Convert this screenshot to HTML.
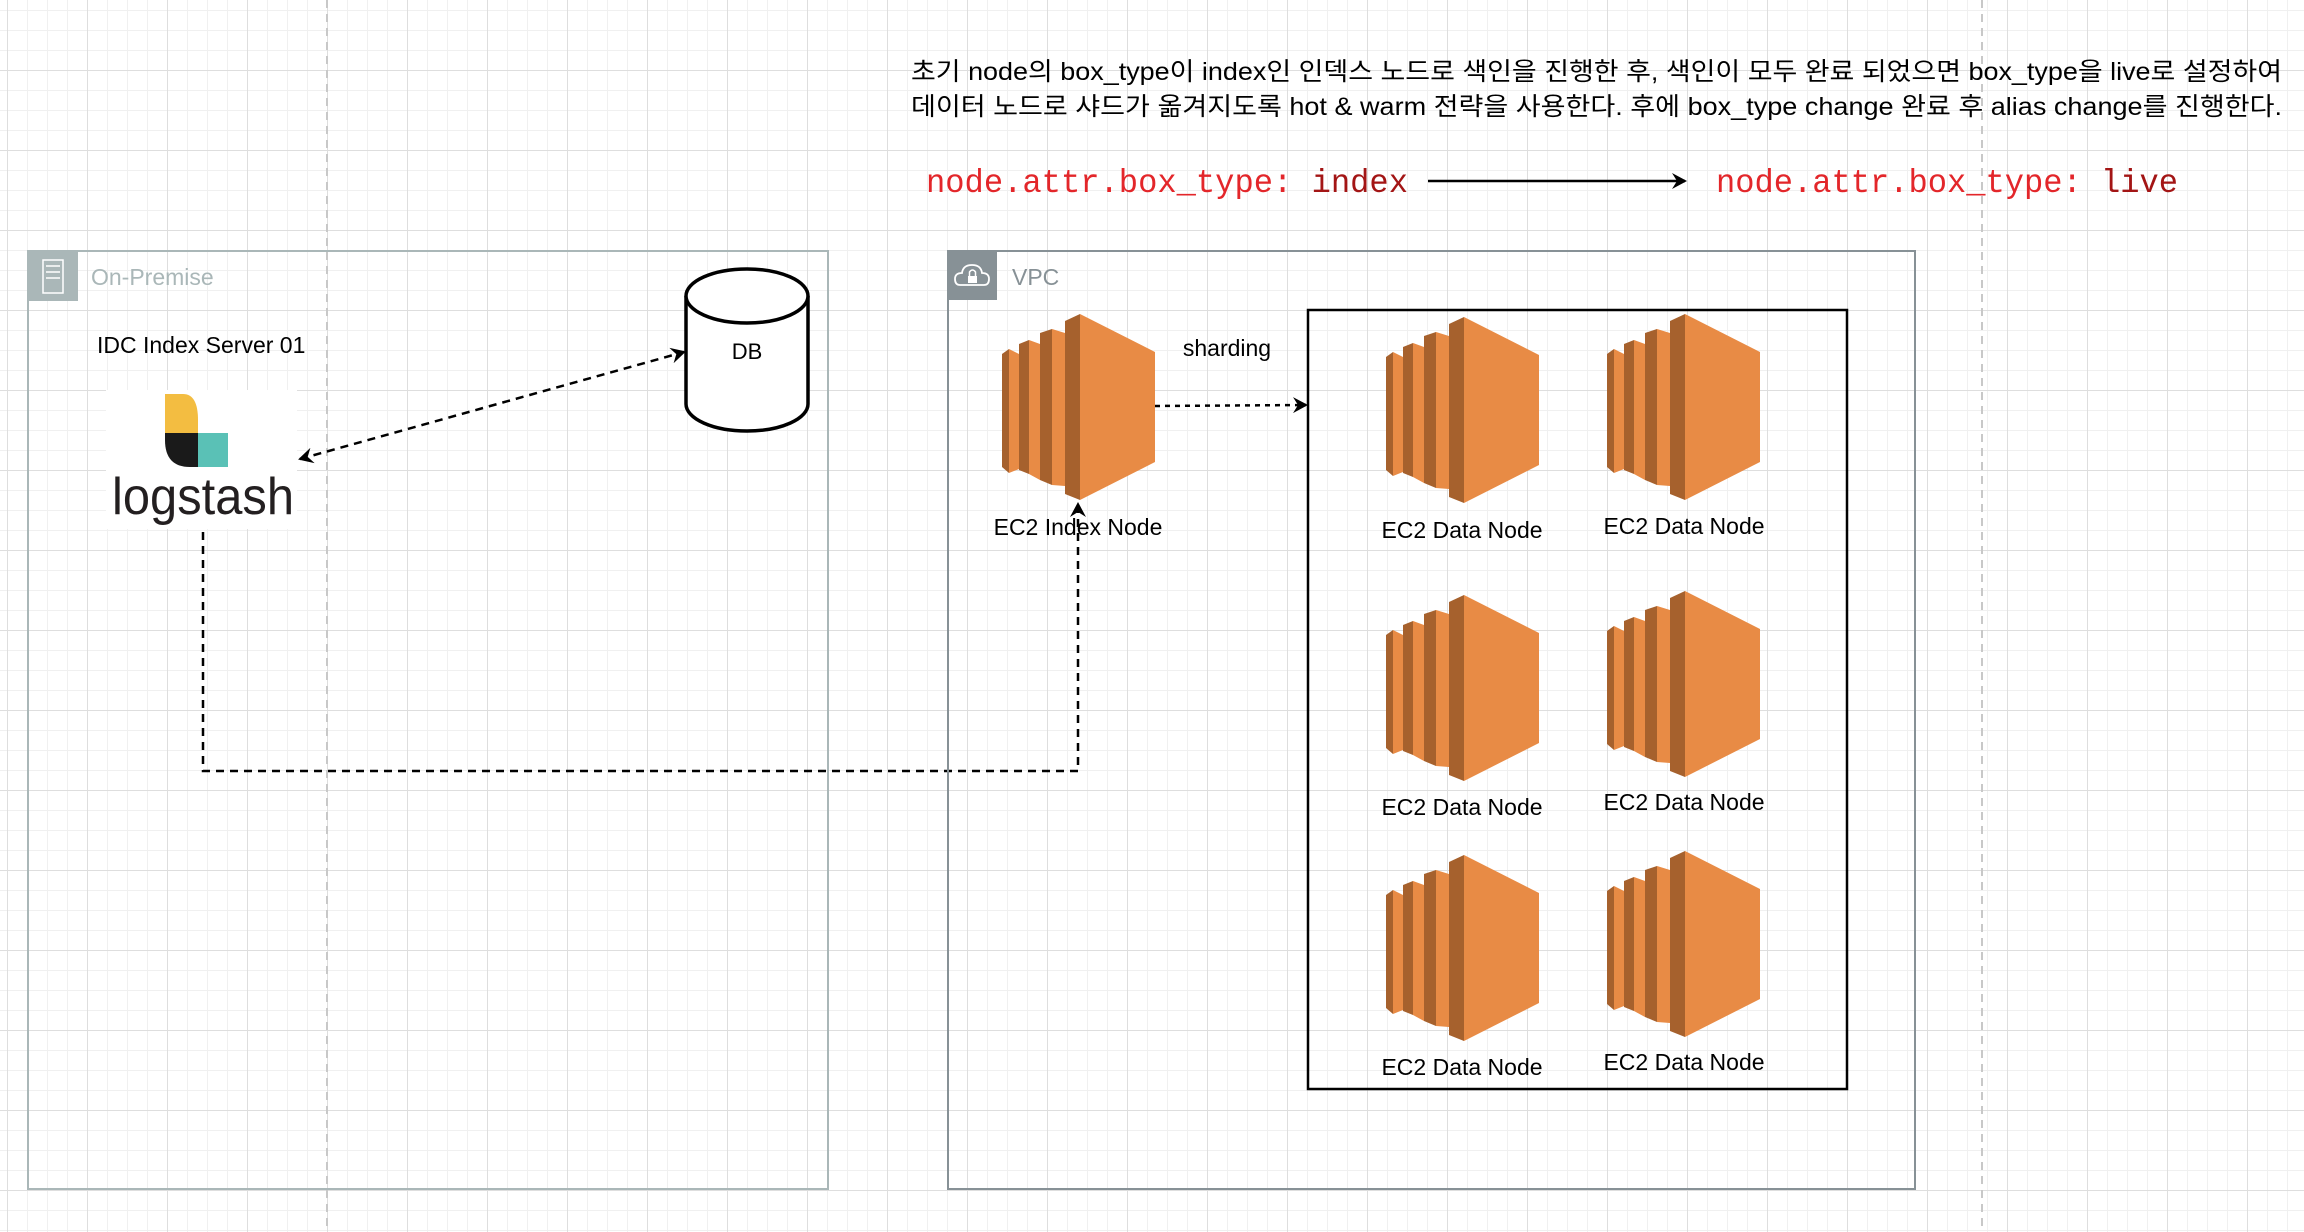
<!DOCTYPE html>
<html><head><meta charset="utf-8"><style>
html,body{margin:0;padding:0;background:#fff;}
svg{display:block;}
text{font-family:"Liberation Sans","Noto Sans CJK KR",sans-serif;}
.mono{font-family:"Liberation Mono","DejaVu Sans Mono",monospace;}
</style></head><body>
<svg width="2304" height="1232" viewBox="0 0 2304 1232" xmlns="http://www.w3.org/2000/svg">
<defs>
<pattern id="minor" width="20" height="20" patternUnits="userSpaceOnUse" x="7" y="10">
<path d="M0 0H20M0 0V20" stroke="#f0f0f0" stroke-width="2" fill="none"/>
</pattern>
<pattern id="major" width="80" height="80" patternUnits="userSpaceOnUse" x="7" y="70">
<path d="M0 0H80M0 0V80" stroke="#dedede" stroke-width="2" fill="none"/>
</pattern>
<g id="ec2">
<polygon points="0,40 7,35 7,159 0,153" fill="#a6612d"/>
<polygon points="7,35 17,40 17,155 7,159" fill="#e88b45"/>
<polygon points="17,30 27,26 27,160 17,156" fill="#a6612d"/>
<polygon points="27,26 38,30 38,166 27,160" fill="#e88b45"/>
<polygon points="38,19 50,15 50,171 38,166" fill="#a6612d"/>
<polygon points="50,15 63,19 63,172 50,171" fill="#e88b45"/>
<polygon points="63,7 78,0 78,186 63,180" fill="#a6612d"/>
<polygon points="78,0 153,38 153,148 78,186" fill="#e88b45"/>
</g>
<marker id="ah" markerWidth="16" markerHeight="16" refX="13" refY="8" orient="auto" markerUnits="userSpaceOnUse">
<path d="M0,0 L15,8 L0,16 L5,8 Z" fill="#000"/>
</marker>
<marker id="ahs" markerWidth="16" markerHeight="16" refX="3" refY="8" orient="auto" markerUnits="userSpaceOnUse">
<path d="M16,0 L1,8 L16,16 L11,8 Z" fill="#000"/>
</marker>
</defs>
<rect width="2304" height="1232" fill="#fff"/>
<rect width="2304" height="1232" fill="url(#minor)"/>
<rect width="2304" height="1232" fill="url(#major)"/>
<line x1="327" y1="0" x2="327" y2="1232" stroke="#c8c8c8" stroke-width="2" stroke-dasharray="8,6"/>
<line x1="1982" y1="0" x2="1982" y2="1232" stroke="#c8c8c8" stroke-width="2" stroke-dasharray="8,6"/>

<text x="911" y="80" font-size="25" textLength="1371" lengthAdjust="spacingAndGlyphs">초기 node의 box_type이 index인 인덱스 노드로 색인을 진행한 후, 색인이 모두 완료 되었으면 box_type을 live로 설정하여</text>
<text x="911" y="115" font-size="25" textLength="1371" lengthAdjust="spacingAndGlyphs">데이터 노드로 샤드가 옮겨지도록 hot &amp; warm 전략을 사용한다. 후에 box_type change 완료 후 alias change를 진행한다.</text>

<text class="mono" x="926" y="192" font-size="33" fill="#e3262a" textLength="482" lengthAdjust="spacingAndGlyphs">node.attr.box_type: <tspan fill="#a31515">index</tspan></text>
<line x1="1428" y1="181" x2="1685" y2="181" stroke="#000" stroke-width="2.5" marker-end="url(#ah)"/>
<text class="mono" x="1716" y="192" font-size="33" fill="#e3262a" textLength="462" lengthAdjust="spacingAndGlyphs">node.attr.box_type: <tspan fill="#a31515">live</tspan></text>

<rect x="28" y="251" width="800" height="938" fill="none" stroke="#aab7b8" stroke-width="2"/>
<rect x="28" y="251" width="50" height="50" fill="#aab7b8"/>
<rect x="43" y="260" width="20" height="33" fill="none" stroke="#fff" stroke-width="1.5"/>
<line x1="46" y1="266" x2="60" y2="266" stroke="#fff" stroke-width="1.5"/>
<line x1="46" y1="272" x2="60" y2="272" stroke="#fff" stroke-width="1.5"/>
<line x1="46" y1="278" x2="60" y2="278" stroke="#fff" stroke-width="1.5"/>
<text x="91" y="285" font-size="23" fill="#aab7b8">On-Premise</text>
<text x="97" y="353" font-size="23">IDC Index Server 01</text>

<rect x="106" y="390" width="191" height="139" fill="#fff"/>
<path d="M165,394 H183 Q198,394 198,420 V433 H165 Z" fill="#f3bd41"/>
<path d="M165,433 H198 V467 H190 Q165,467 165,440 Z" fill="#1a1a1a"/>
<rect x="198" y="433" width="30" height="34" fill="#5ac1b6"/>
<text x="112" y="514" font-size="52" fill="#231f20" textLength="182" lengthAdjust="spacingAndGlyphs">logstash</text>

<path d="M686,296 V404 A61,27 0 0 0 808,404 V296" fill="#fff" stroke="#000" stroke-width="3.5"/>
<ellipse cx="747" cy="296" rx="61" ry="27" fill="#fff" stroke="#000" stroke-width="3.5"/>
<text x="747" y="359" font-size="22" text-anchor="middle">DB</text>
<line x1="300" y1="459" x2="684" y2="352" stroke="#000" stroke-width="2.5" stroke-dasharray="8,6" marker-start="url(#ahs)" marker-end="url(#ah)"/>

<path d="M203,532 V771 H1078 V504" fill="none" stroke="#000" stroke-width="2.5" stroke-dasharray="8,6" marker-end="url(#ah)"/>

<rect x="948" y="251" width="967" height="938" fill="none" stroke="#879196" stroke-width="2"/>
<rect x="948" y="251" width="49" height="49" fill="#879196"/>
<path d="M960,285 Q955,285 955,279 Q955,273 962,273 Q963,265 972,265 Q981,265 982,273 Q989,273 989,279 Q989,285 984,285 Z" fill="none" stroke="#fff" stroke-width="1.8"/>
<rect x="968" y="276" width="9" height="7" fill="#fff"/>
<path d="M969.5,276 V272 Q972.5,268 975.5,272 V276" fill="none" stroke="#fff" stroke-width="1.5"/>
<text x="1012" y="285" font-size="23" fill="#879196">VPC</text>

<use href="#ec2" x="1002" y="314"/>
<text x="1078" y="535" font-size="23" text-anchor="middle">EC2 Index Node</text>
<text x="1227" y="356" font-size="23" text-anchor="middle">sharding</text>
<line x1="1155" y1="406" x2="1306" y2="405" stroke="#000" stroke-width="2.5" stroke-dasharray="5,5" marker-end="url(#ah)"/>

<rect x="1308" y="310" width="539" height="779" fill="none" stroke="#000" stroke-width="2.5"/>

<use href="#ec2" x="1386" y="317"/>
<text x="1462" y="538" font-size="23" text-anchor="middle">EC2 Data Node</text>
<use href="#ec2" x="1607" y="314"/>
<text x="1684" y="534" font-size="23" text-anchor="middle">EC2 Data Node</text>
<use href="#ec2" x="1386" y="595"/>
<text x="1462" y="815" font-size="23" text-anchor="middle">EC2 Data Node</text>
<use href="#ec2" x="1607" y="591"/>
<text x="1684" y="810" font-size="23" text-anchor="middle">EC2 Data Node</text>
<use href="#ec2" x="1386" y="855"/>
<text x="1462" y="1075" font-size="23" text-anchor="middle">EC2 Data Node</text>
<use href="#ec2" x="1607" y="851"/>
<text x="1684" y="1070" font-size="23" text-anchor="middle">EC2 Data Node</text>
</svg>
</body></html>
